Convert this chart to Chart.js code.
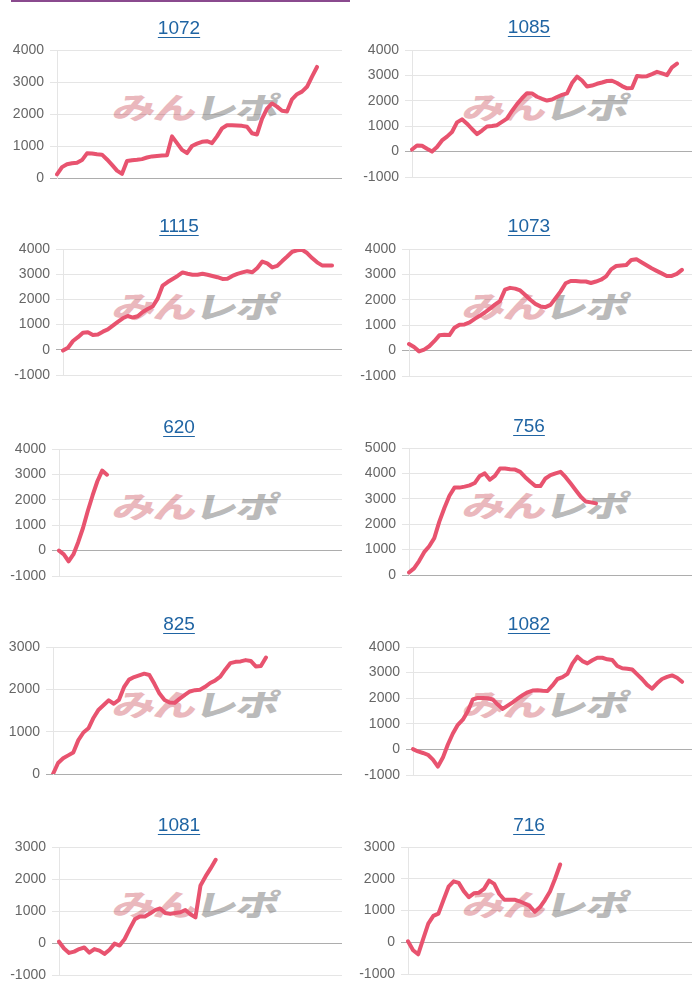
<!DOCTYPE html>
<html>
<head>
<meta charset="utf-8">
<script src="https://cdn.jsdelivr.net/npm/chart.js@4.4.1/dist/chart.umd.min.js"></script>
<style>
  html, body { margin:0; padding:0; background:#fff; }
  body { width:700px; height:1000px; position:relative; overflow:hidden; font-family:"Liberation Sans", Arial, sans-serif; }
  .topbar { position:absolute; left:11px; top:0; width:339px; height:2px; background:#8a4a8e; }
  .panel { position:absolute; width:350px; height:200px; }
  .panel canvas { position:absolute; left:0; top:0; z-index:2; }
  .title { position:absolute; left:0; width:358px; text-align:center; font-size:19px; line-height:22px; z-index:3; }
  .title a { color:#1f64a3; text-decoration:underline; text-underline-offset:3px; }
  .wm { position:absolute; z-index:1; white-space:nowrap; font-family:"Noto Sans CJK JP", sans-serif; font-weight:900; font-size:30px; line-height:30px; transform-origin:0 0; transform:skewX(-14deg) scale(1.42,1); letter-spacing:-1px; }
  .wm .a { color:#eab8bd; }
  .wm .b { color:#bababa; }
</style>
</head>
<body>
<div class="topbar"></div>
<div id="root"></div>
<script>
// ---- data ----
const titles = ['1072','1085','1115','1073','620','756','825','1082','1081','716'];
const labelCounts = [58, 57, 57, 57, 60, 57, 58, 57, 57, 57];
const yMins = [0, -1000, -1000, -1000, -1000, 0, 0, -1000, -1000, -1000];
const yMaxs = [4000, 4000, 4000, 4000, 4000, 5000, 3000, 4000, 3000, 3000];
const yStep = 1000;

const d1072 = [115,340,430,460,475,560,770,765,740,730,580,410,230,130,530,555,570,590,640,675,690,700,710,1300,1090,880,780,1000,1075,1130,1150,1090,1300,1550,1650,1645,1640,1630,1600,1400,1360,1850,2170,2330,2230,2100,2080,2460,2620,2700,2850,3170,3470];
const d1085 = [80,240,230,110,0,180,440,590,770,1150,1270,1100,890,690,830,990,1010,1040,1170,1300,1600,1870,2100,2300,2290,2160,2080,2010,2050,2150,2230,2290,2700,2950,2800,2560,2600,2670,2720,2780,2790,2700,2580,2490,2500,2980,2960,2970,3050,3140,3080,3010,3320,3460];
const d1115 = [-30,80,350,500,680,700,590,610,720,810,960,1110,1250,1340,1280,1330,1500,1620,1720,2030,2550,2690,2810,2930,3070,3020,2980,2980,3020,2980,2930,2880,2810,2820,2930,3010,3070,3120,3080,3250,3500,3430,3270,3330,3520,3700,3890,3950,3970,3840,3640,3470,3350,3350,3350];
const d1073 = [260,140,-30,40,170,370,600,620,610,900,1020,1030,1110,1250,1370,1500,1650,1810,1950,2400,2470,2440,2370,2190,2000,1840,1740,1710,1800,2060,2330,2650,2740,2740,2720,2720,2660,2720,2790,2920,3200,3330,3350,3370,3570,3600,3480,3360,3240,3140,3040,2940,2940,3020,3180];
const d620 = [0,-150,-420,-150,330,890,1560,2170,2730,3150,2990];
const d756 = [100,260,550,900,1130,1450,2100,2640,3120,3440,3440,3480,3530,3620,3900,4000,3750,3900,4190,4190,4160,4150,4060,3850,3670,3500,3500,3800,3930,4000,4060,3850,3600,3340,3080,2890,2860,2820];
const d825 = [0,260,370,440,510,800,980,1080,1330,1520,1630,1740,1660,1750,2050,2230,2290,2330,2370,2340,2130,1900,1750,1690,1680,1780,1870,1950,1980,1990,2060,2150,2210,2300,2470,2620,2650,2660,2690,2670,2540,2550,2750];
const d1082 = [10,-80,-140,-210,-400,-670,-320,190,620,960,1160,1490,1950,2010,2010,2000,1950,1750,1580,1710,1840,1980,2120,2230,2300,2310,2290,2280,2500,2750,2820,2950,3350,3620,3450,3360,3480,3580,3580,3520,3490,3260,3170,3150,3120,2930,2740,2520,2370,2580,2750,2830,2890,2800,2640];
const d1081 = [40,-170,-310,-270,-190,-140,-300,-190,-240,-340,-210,-20,-80,125,440,740,830,830,920,1030,1080,940,910,940,960,1030,900,800,1800,2080,2330,2600];
const d716 = [30,-250,-380,110,590,830,900,1330,1750,1920,1870,1610,1420,1540,1560,1680,1940,1840,1520,1340,1340,1340,1290,1220,1140,960,1100,1330,1600,2000,2450];

const series = [d1072, d1085, d1115, d1073, d620, d756, d825, d1082, d1081, d716];

// ---- layout (positions only) ----
const axisLeft = [57, 62, 63, 59, 59, 59, 53, 63, 59, 58];
const areaTop = [50, 50, 49, 49, 49, 48, 47, 47, 47, 47];
const areaBottom = [178, 177, 175, 176, 176, 175, 174, 175, 175, 174];
const titleCenter = [28, 27, 26, 26, 27, 26, 24, 24, 25, 25];

const root = document.getElementById('root');
for (let i = 0; i < titles.length; i++) {
  const col = i % 2, row = Math.floor(i / 2);
  const panel = document.createElement('div');
  panel.className = 'panel';
  panel.style.left = (col * 350) + 'px';
  panel.style.top = (row * 200) + 'px';

  const t = document.createElement('div');
  t.className = 'title';
  t.style.top = (titleCenter[i] - 11) + 'px';
  const a = document.createElement('a');
  a.href = '#';
  a.textContent = titles[i];
  t.appendChild(a);
  panel.appendChild(t);

  const wm = document.createElement('div');
  wm.className = 'wm';
  wm.style.left = '118px';
  wm.style.top = (areaTop[i] + 41) + 'px';
  wm.innerHTML = '<span class="a">みん</span><span class="b">レポ</span>';
  panel.appendChild(wm);

  const cv = document.createElement('canvas');
  cv.width = 350; cv.height = 200;
  cv.style.width = '350px'; cv.style.height = '200px';
  panel.appendChild(cv);
  root.appendChild(panel);

  const labels = Array.from({length: labelCounts[i]}, () => '');
  new Chart(cv.getContext('2d'), {
    type: 'line',
    data: {
      labels: labels,
      datasets: [{
        data: series[i],
        borderColor: '#e8536f',
        backgroundColor: '#e8536f',
        borderWidth: 4,
        pointRadius: 0,
        tension: 0,
        fill: false,
        borderJoinStyle: 'round',
        borderCapStyle: 'round'
      }]
    },
    options: {
      responsive: false,
      devicePixelRatio: 1,
      animation: false,
      layout: { autoPadding: false, padding: { top: areaTop[i], bottom: 200 - areaBottom[i], left: 0, right: 8 } },
      plugins: { legend: { display: false }, tooltip: { enabled: false }, title: { display: false } },
      scales: {
        x: { display: false },
        y: {
          min: yMins[i], max: yMaxs[i],
          afterFit: (s) => { s.width = axisLeft[i]; },
          ticks: { stepSize: yStep, color: '#666', padding: 6, font: { size: 14, family: '"Liberation Sans", Arial, sans-serif' }, callback: (v) => String(v) },
          grid: {
            color: (c) => (c.tick && c.tick.value === 0) ? 'rgba(0,0,0,0.32)' : 'rgba(0,0,0,0.1)',
            tickLength: 7
          },
          border: { display: true, color: 'rgba(0,0,0,0.1)' }
        }
      }
    }
  });
}
</script>
</body>
</html>
